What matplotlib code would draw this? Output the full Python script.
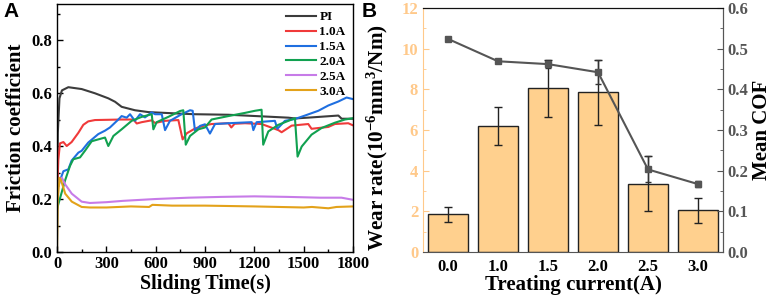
import matplotlib
matplotlib.use("Agg")
import matplotlib.pyplot as plt
import numpy as np
from matplotlib.ticker import MultipleLocator

# ---------------- data: panel A (friction curves) ----------------
t_pi = [0, 5, 15, 30, 69, 150, 231, 312, 353, 393, 474, 556, 657, 758, 839, 1042,
        1244, 1407, 1447, 1548, 1711, 1731, 1800]
cof_pi = [0.05, 0.45, 0.58, 0.61, 0.622, 0.615, 0.599, 0.58, 0.567, 0.548, 0.535, 0.528,
          0.525, 0.522, 0.52, 0.518, 0.512, 0.507, 0.504, 0.508, 0.515, 0.503, 0.503]

t_10 = [0, 8, 18, 39, 59, 89, 130, 160, 190, 231, 393, 464, 485, 515, 576, 596, 657,
        738, 764, 789, 839, 900, 940, 1042, 1060, 1080, 1143, 1244, 1346, 1366, 1427,
        1528, 1548, 1650, 1690, 1771, 1800]
cof_10 = [0.2, 0.347, 0.41, 0.415, 0.4, 0.415, 0.45, 0.48, 0.493, 0.498, 0.5, 0.5, 0.485,
          0.49, 0.497, 0.487, 0.495, 0.498, 0.425, 0.448, 0.466, 0.478, 0.483, 0.486, 0.47,
          0.484, 0.486, 0.483, 0.46, 0.452, 0.477, 0.483, 0.465, 0.472, 0.483, 0.486, 0.478]

t_15 = [10, 18, 39, 69, 89, 130, 150, 190, 251, 292, 322, 373, 393, 424, 444, 474, 505,
        535, 576, 596, 637, 657, 687, 758, 809, 825, 839, 870, 900, 930, 961, 1042, 1184,
        1194, 1214, 1325, 1340, 1386, 1447, 1508, 1589, 1650, 1711, 1761, 1800]
cof_15 = [0.25, 0.27, 0.305, 0.312, 0.345, 0.375, 0.382, 0.413, 0.445, 0.458, 0.47, 0.5,
          0.513, 0.507, 0.52, 0.495, 0.52, 0.508, 0.527, 0.52, 0.52, 0.46, 0.495, 0.52,
          0.535, 0.533, 0.458, 0.476, 0.482, 0.447, 0.483, 0.486, 0.49, 0.46, 0.49, 0.495,
          0.465, 0.495, 0.502, 0.515, 0.533, 0.553, 0.568, 0.583, 0.577]

t_20 = [0, 8, 49, 79, 99, 140, 170, 211, 251, 292, 312, 343, 393, 454, 515, 576, 586,
        606, 677, 748, 768, 783, 809, 860, 900, 940, 1042, 1143, 1204, 1244, 1254, 1285,
        1346, 1407, 1447, 1463, 1488, 1548, 1609, 1690, 1751, 1800]
cof_20 = [0.16, 0.18, 0.27, 0.325, 0.35, 0.357, 0.382, 0.418, 0.425, 0.432, 0.4, 0.438,
          0.463, 0.495, 0.51, 0.52, 0.463, 0.49, 0.51, 0.532, 0.535, 0.405, 0.438, 0.463,
          0.47, 0.5, 0.513, 0.525, 0.533, 0.537, 0.405, 0.455, 0.48, 0.495, 0.505, 0.36,
          0.398, 0.443, 0.468, 0.488, 0.5, 0.505]

t_25 = [5, 30, 50, 90, 150, 200, 300, 400, 600, 800, 1000, 1200, 1400, 1600, 1730, 1800]
cof_25 = [0.26, 0.28, 0.255, 0.22, 0.19, 0.185, 0.188, 0.193, 0.2, 0.205, 0.208, 0.21,
          0.208, 0.205, 0.205, 0.197]

t_30 = [0, 5, 15, 25, 50, 90, 150, 200, 300, 450, 560, 580, 700, 900, 1200, 1500, 1550,
        1650, 1700, 1800]
cof_30 = [0.0, 0.2, 0.28, 0.27, 0.22, 0.19, 0.17, 0.168, 0.168, 0.172, 0.17, 0.178,
          0.175, 0.175, 0.172, 0.168, 0.17, 0.165, 0.17, 0.172]

labels_a = ["PI", "1.0A", "1.5A", "2.0A", "2.5A", "3.0A"]
colors_a = ["#3c3c3c", "#f03a3a", "#1f6fe0", "#11a150", "#c77be8", "#e3a21a"]

# ---------------- data: panel B ----------------
currents = ["0.0", "1.0", "1.5", "2.0", "2.5", "3.0"]
wear_rate = [1.85, 6.2, 8.05, 7.85, 3.35, 2.05]
wear_err = [0.37, 0.92, 1.4, 1.6, 1.35, 0.6]
mean_cof = [0.524, 0.469, 0.462, 0.442, 0.203, 0.167]
cof_err = [0.005, 0.005, 0.01, 0.03, 0.032, 0.007]

serif = "Liberation Serif"
plt.rcParams['font.family'] = [serif, 'DejaVu Serif']
plt.rcParams['font.weight'] = 'bold'
plt.rcParams['axes.labelweight'] = 'bold'
plt.rcParams['mathtext.fontset'] = 'custom'
plt.rcParams['mathtext.rm'] = 'Liberation Serif:bold'
plt.rcParams['mathtext.bf'] = 'Liberation Serif:bold'
plt.rcParams['mathtext.it'] = 'Liberation Serif:bold:italic'
plt.rcParams['mathtext.default'] = 'bf'

fig = plt.figure(figsize=(7.75, 2.97), dpi=100)

# ---------- Panel A ----------
axA = fig.add_axes([57/775, 1-252/297, (353-57)/775, (252-4)/297])
series = [(t_pi, cof_pi), (t_10, cof_10), (t_15, cof_15), (t_20, cof_20), (t_25, cof_25), (t_30, cof_30)]
for (tt, cc), lab, col in zip(series, labels_a, colors_a):
    axA.plot(tt, cc, color=col, lw=1.5, label=lab)
axA.set_xlim(0, 1800)
axA.set_ylim(0, 0.936)
axA.xaxis.set_major_locator(MultipleLocator(300))
axA.xaxis.set_minor_locator(MultipleLocator(150))
axA.yaxis.set_major_locator(MultipleLocator(0.2))
axA.yaxis.set_minor_locator(MultipleLocator(0.1))
axA.tick_params(which='both', direction='in', labelsize=12, width=1)
axA.tick_params(which='major', length=4)
axA.tick_params(which='minor', length=2)
axA.tick_params(axis='x', pad=3)
axA.set_yticks([0, 0.2, 0.4, 0.6, 0.8])
axA.set_yticklabels(["0.0", "0.2", "0.4", "0.6", "0.8"])
for lab in axA.get_xticklabels() + axA.get_yticklabels():
    lab.set_fontweight('bold')
axA.set_xlabel("Sliding Time(s)", fontsize=14.5, fontweight='bold', labelpad=1)
axA.set_ylabel("Friction coefficient", fontsize=15, fontweight='bold', labelpad=4)
for s in axA.spines.values():
    s.set_linewidth(1.0)
leg = axA.legend(loc='upper right', frameon=False, handlelength=2.3,
                 labelspacing=0.2, borderaxespad=0.15, handletextpad=0.25,
                 prop={'family': serif, 'weight': 'bold', 'size': 9.5})

fig.text(3/775, 1-2/297, "A", fontsize=15, fontweight='bold', family='Liberation Sans',
         va='top', ha='left')
fig.text(362/775, 1-2/297, "B", fontsize=15, fontweight='bold', family='Liberation Sans',
         va='top', ha='left')

# ---------- Panel B ----------
peach = "#ffd08e"
peach_txt = "#ffc98a"
gray = "#555555"
axB = fig.add_axes([423/775, 1-252/297, (723-423)/775, (252-8)/297])
x = np.arange(len(currents))
axB.bar(x, wear_rate, width=0.8, color=peach, edgecolor='#222222', linewidth=1.0, zorder=2)
axB.errorbar(x, wear_rate, yerr=wear_err, fmt='none', ecolor='#222222', elinewidth=1.0,
             capsize=3, capthick=1.0, zorder=3)
axB.set_xlim(-0.5, 5.5)
axB.set_ylim(0, 12)
axB.set_xticks(x)
axB.set_xticklabels(currents)
axB.yaxis.set_major_locator(MultipleLocator(2))
axB.yaxis.set_minor_locator(MultipleLocator(1))
axB.tick_params(axis='x', length=0, labelsize=12, pad=5)
axB.tick_params(axis='y', which='both', direction='in', colors=peach_txt, labelsize=12)
axB.tick_params(axis='y', which='major', length=4)
axB.tick_params(axis='y', which='minor', length=2)
for lab in axB.get_xticklabels():
    lab.set_fontweight('bold')
for lab in axB.get_yticklabels():
    lab.set_fontweight('bold')
axB.spines['left'].set_color(peach_txt)
axB.spines['bottom'].set_color(gray)
axB.spines['top'].set_color('#111111')
axB.spines['right'].set_color(gray)
axB.set_xlabel("Treating current(A)", fontsize=15, fontweight='bold', labelpad=0)
axB.set_ylabel(r"Wear rate(10$^{-6}$mm$^{3}$/Nm)", fontsize=15.2,
               fontweight='bold', color='black')
axB.yaxis.set_label_coords(-0.11, 0.47)

axC = axB.twinx()
axC.errorbar(x, mean_cof, yerr=cof_err, color=gray, lw=1.5, marker='s', markersize=4,
             ecolor='#333333', elinewidth=1.0, capsize=2.5, capthick=1.0, zorder=4)
axC.set_ylim(0, 0.6)
axC.yaxis.set_major_locator(MultipleLocator(0.1))
axC.yaxis.set_minor_locator(MultipleLocator(0.05))
axC.tick_params(axis='y', which='both', direction='in', colors=gray, labelsize=12)
axC.tick_params(axis='y', which='major', length=4)
axC.tick_params(axis='y', which='minor', length=2)
axC.set_yticks([0, 0.1, 0.2, 0.3, 0.4, 0.5, 0.6])
axC.set_yticklabels(["0.0", "0.1", "0.2", "0.3", "0.4", "0.5", "0.6"])
for lab in axC.get_yticklabels():
    lab.set_fontweight('bold')
    lab.set_color(gray)
axC.spines['right'].set_color(gray)
axC.spines['left'].set_visible(False)
axC.spines['top'].set_color('#111111')
axC.spines['bottom'].set_visible(False)
axC.set_ylabel("Mean COF", fontsize=15, fontweight='bold', labelpad=2)

fig.savefig("out.png", dpi=100)
